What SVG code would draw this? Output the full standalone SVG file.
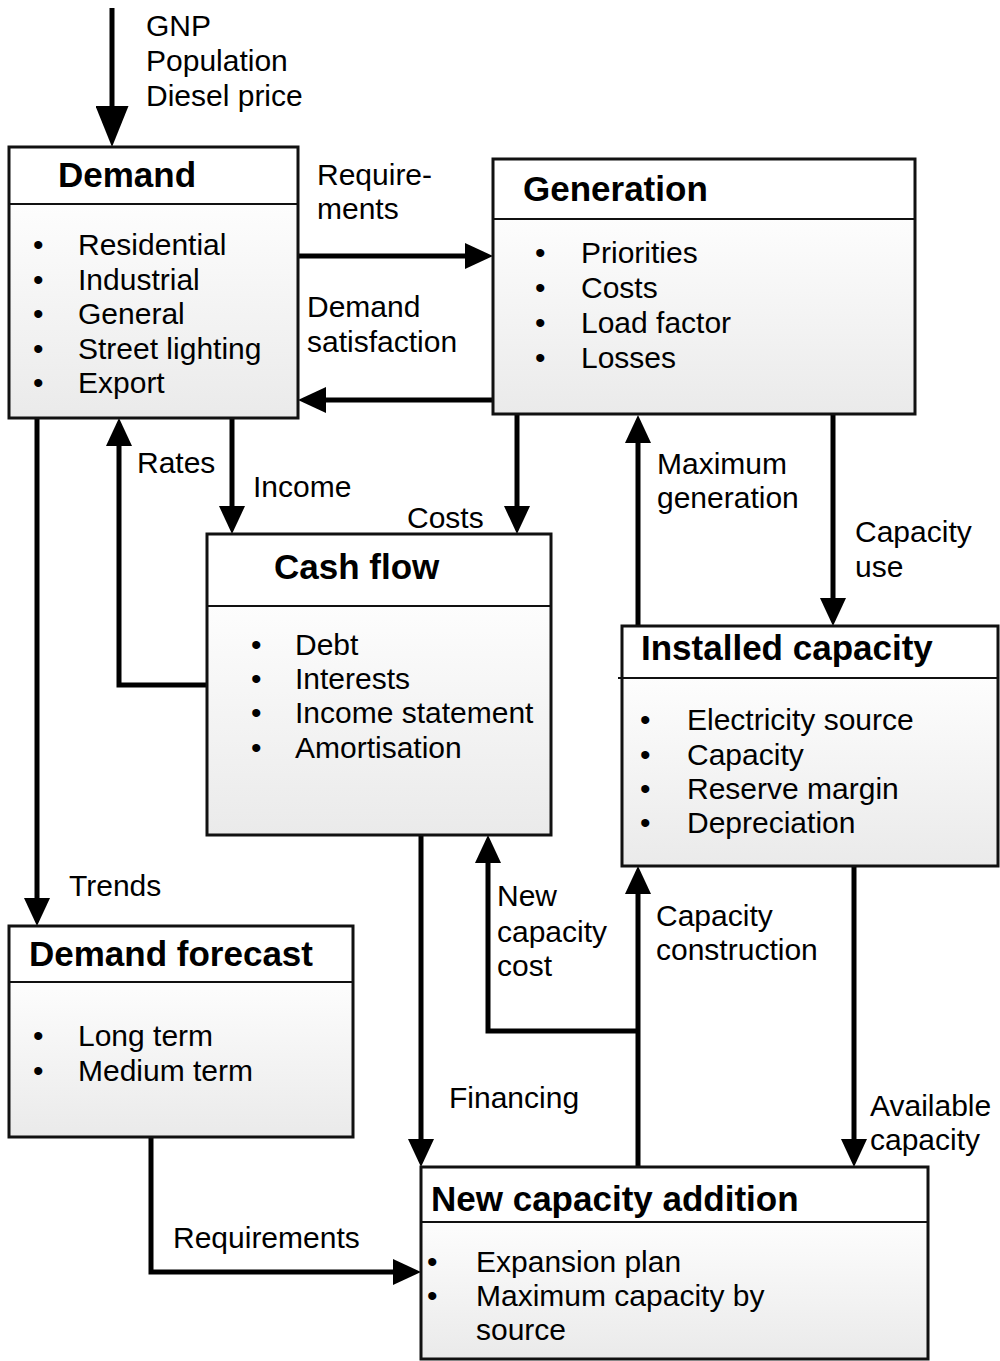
<svg xmlns="http://www.w3.org/2000/svg" width="1000" height="1361" viewBox="0 0 1000 1361">
<defs>
<linearGradient id="bodyGrad" x1="0" y1="0" x2="0" y2="1">
<stop offset="0" stop-color="#fdfdfd"/>
<stop offset="1" stop-color="#eaeaea"/>
</linearGradient>
<marker id="arr" markerUnits="userSpaceOnUse" markerWidth="28" markerHeight="26" refX="13" refY="13" orient="auto" viewBox="0 0 28 26">
<path d="M0,0 L28,13 L0,26 z" fill="#000"/>
</marker>
<marker id="arrBig" markerUnits="userSpaceOnUse" markerWidth="41" markerHeight="33" refX="20" refY="16.5" orient="auto" viewBox="0 0 41 33">
<path d="M0,0 L41,16.5 L0,33 z" fill="#000"/>
</marker>
</defs>
<style>
.body{fill:url(#bodyGrad);}
.head{fill:#fff;}
.frame{fill:none;stroke:#111;stroke-width:3;}
.sep{stroke:#111;stroke-width:2;}
.t{font-family:"Liberation Sans",Arial,sans-serif;font-weight:bold;font-size:35px;fill:#000;}
.b{font-family:"Liberation Sans",Arial,sans-serif;font-size:30px;fill:#000;}
.c{fill:none;stroke:#000;stroke-width:5;stroke-linejoin:miter;marker-end:url(#arr);}
</style>
<rect width="1000" height="1361" fill="#fff"/>

<g id="connectors">
<path class="c" d="M112,8 V126" style="marker-end:url(#arrBig)"/>
<path class="c" d="M298,256 H478"/>
<path class="c" d="M493,400 H313"/>
<path class="c" d="M37,418 V911"/>
<path class="c" d="M207,685 H119 V433"/>
<path class="c" d="M232,418 V519"/>
<path class="c" d="M517,415 V519"/>
<path class="c" d="M638,626 V430"/>
<path class="c" d="M833,415 V611"/>
<path class="c" d="M421,835 V1152"/>
<path class="c" d="M638,1031 H488 V850"/>
<path class="c" d="M638,1167 V881"/>
<path class="c" d="M854,866 V1152"/>
<path class="c" d="M151,1137 V1272 H406"/>
</g>

<g id="labels">
<text class="b" x="146" y="36">GNP</text>
<text class="b" x="146" y="71">Population</text>
<text class="b" x="146" y="106">Diesel price</text>
<text class="b" x="317" y="185">Require-</text>
<text class="b" x="317" y="219">ments</text>
<text class="b" x="307" y="317">Demand</text>
<text class="b" x="307" y="352">satisfaction</text>
<text class="b" x="137" y="473">Rates</text>
<text class="b" x="253" y="497">Income</text>
<text class="b" x="407" y="528">Costs</text>
<text class="b" x="657" y="474">Maximum</text>
<text class="b" x="657" y="508">generation</text>
<text class="b" x="855" y="542">Capacity</text>
<text class="b" x="855" y="577">use</text>
<text class="b" x="69" y="896">Trends</text>
<text class="b" x="497" y="906">New</text>
<text class="b" x="497" y="942">capacity</text>
<text class="b" x="497" y="976">cost</text>
<text class="b" x="656" y="926">Capacity</text>
<text class="b" x="656" y="960">construction</text>
<text class="b" x="449" y="1108">Financing</text>
<text class="b" x="870" y="1116">Available</text>
<text class="b" x="870" y="1150">capacity</text>
<text class="b" x="173" y="1248">Requirements</text>
</g>

<g id="demand">
<rect class="body" x="9" y="204" width="289" height="214"/>
<rect class="head" x="9" y="147" width="289" height="57"/>
<line class="sep" x1="9" y1="204" x2="298" y2="204"/>
<rect class="frame" x="9" y="147" width="289" height="271"/>
<text class="t" x="58" y="187">Demand</text>
<text class="b" x="33" y="255">•</text><text class="b" x="78" y="255">Residential</text>
<text class="b" x="33" y="289.5">•</text><text class="b" x="78" y="289.5">Industrial</text>
<text class="b" x="33" y="324">•</text><text class="b" x="78" y="324">General</text>
<text class="b" x="33" y="358.5">•</text><text class="b" x="78" y="358.5">Street lighting</text>
<text class="b" x="33" y="393">•</text><text class="b" x="78" y="393">Export</text>
</g>

<g id="generation">
<rect class="body" x="493" y="219" width="422" height="195"/>
<rect class="head" x="493" y="159" width="422" height="60"/>
<line class="sep" x1="493" y1="219" x2="915" y2="219"/>
<rect class="frame" x="493" y="159" width="422" height="255"/>
<text class="t" x="523" y="201">Generation</text>
<text class="b" x="535" y="263">•</text><text class="b" x="581" y="263">Priorities</text>
<text class="b" x="535" y="298">•</text><text class="b" x="581" y="298">Costs</text>
<text class="b" x="535" y="333">•</text><text class="b" x="581" y="333">Load factor</text>
<text class="b" x="535" y="368">•</text><text class="b" x="581" y="368">Losses</text>
</g>

<g id="cashflow">
<rect class="body" x="207" y="606" width="344" height="229"/>
<rect class="head" x="207" y="534" width="344" height="72"/>
<line class="sep" x1="207" y1="606" x2="551" y2="606"/>
<rect class="frame" x="207" y="534" width="344" height="301"/>
<text class="t" x="274" y="579">Cash flow</text>
<text class="b" x="251" y="655">•</text><text class="b" x="295" y="655">Debt</text>
<text class="b" x="251" y="689">•</text><text class="b" x="295" y="689">Interests</text>
<text class="b" x="251" y="723">•</text><text class="b" x="295" y="723">Income statement</text>
<text class="b" x="251" y="758">•</text><text class="b" x="295" y="758">Amortisation</text>
</g>

<g id="installed">
<rect class="body" x="622" y="678" width="376" height="188"/>
<rect class="head" x="622" y="626" width="376" height="52"/>
<line class="sep" x1="618" y1="678" x2="998" y2="678"/>
<rect class="frame" x="622" y="626" width="376" height="240"/>
<text class="t" x="641" y="660">Installed capacity</text>
<text class="b" x="640" y="730">•</text><text class="b" x="687" y="730">Electricity source</text>
<text class="b" x="640" y="765">•</text><text class="b" x="687" y="765">Capacity</text>
<text class="b" x="640" y="799">•</text><text class="b" x="687" y="799">Reserve margin</text>
<text class="b" x="640" y="833">•</text><text class="b" x="687" y="833">Depreciation</text>
</g>

<g id="forecast">
<rect class="body" x="9" y="982" width="344" height="155"/>
<rect class="head" x="9" y="926" width="344" height="56"/>
<line class="sep" x1="9" y1="982" x2="353" y2="982"/>
<rect class="frame" x="9" y="926" width="344" height="211"/>
<text class="t" x="29" y="966">Demand forecast</text>
<text class="b" x="33" y="1046">•</text><text class="b" x="78" y="1046">Long term</text>
<text class="b" x="33" y="1081">•</text><text class="b" x="78" y="1081">Medium term</text>
</g>

<g id="newcapacity">
<rect class="body" x="421" y="1222" width="507" height="137"/>
<rect class="head" x="421" y="1167" width="507" height="55"/>
<line class="sep" x1="421" y1="1222" x2="928" y2="1222"/>
<rect class="frame" x="421" y="1167" width="507" height="192"/>
<text class="t" x="431" y="1211">New capacity addition</text>
<text class="b" x="427" y="1272">•</text><text class="b" x="476" y="1272">Expansion plan</text>
<text class="b" x="427" y="1306">•</text><text class="b" x="476" y="1306">Maximum capacity by</text>
<text class="b" x="476" y="1340">source</text>
</g>
</svg>
